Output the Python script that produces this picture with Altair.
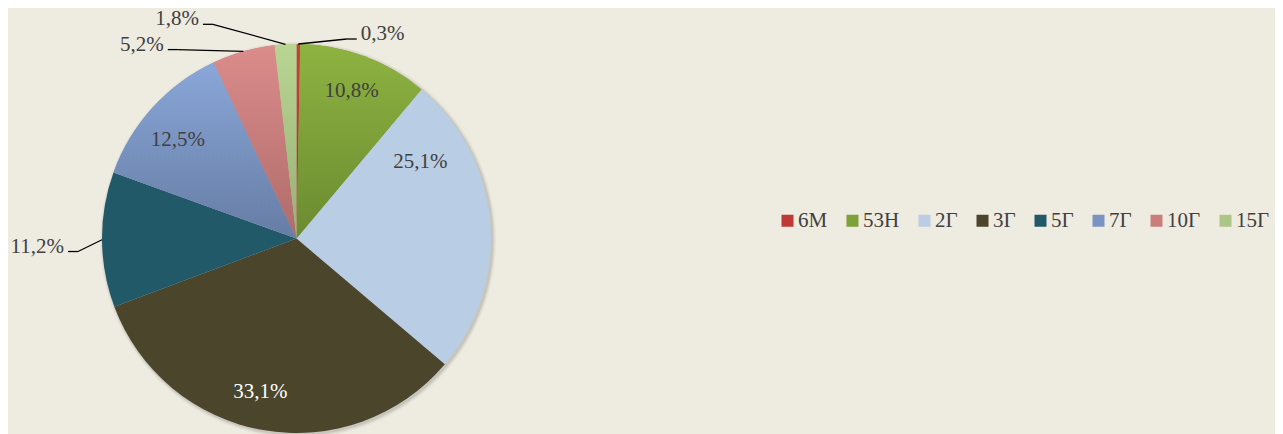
import altair as alt
import pandas as pd

# ---- data ----
categories = ["6М", "53Н", "2Г", "3Г", "5Г", "7Г", "10Г", "15Г"]
shares = [0.3, 10.8, 25.1, 33.1, 11.2, 12.5, 5.2, 1.8]

df = pd.DataFrame({
    "cat": categories,
    "share": shares,
    "idx": list(range(len(categories))),
    "label": [f"{v:.1f}%".replace(".", ",") for v in shares],
})

# ---- style ----
FONT = "Liberation Serif"
FS = 21
TXT = "#404040"
BG = "#EEEBE0"
solid = ["#BE3A36", "#7EA139", "#B9CDE5", "#4A452B", "#215968", "#7A93C3", "#C97E7C", "#ABC687"]
gradients = {
    "6М": ("#C8413C", "#A8302C"),
    "53Н": ("#8EB341", "#6B8B30"),
    "7Г": ("#8AA7D9", "#667DA4"),
    "10Г": ("#DB8C8B", "#AE6C6A"),
    "15Г": ("#B9D592", "#97B077"),
}

# layout of the chart (pixels within the plot area)
W, H = 1267, 426
CX, CY, R = 288.5, 230.5, 194.5
RI = 0.81 * R          # radius of inside labels
LEG, GAP = 10, 4       # leader horizontal leg, gap leader->text

# label placement: inside nudges / outside leader elbows (relative offsets)
layout = pd.DataFrame({
    "cat": ["53Н", "2Г", "3Г", "7Г", "6М", "15Г", "10Г", "5Г"],
    "kind": ["in", "in", "in", "in", "out", "out", "out", "out"],
    "ox": [0, -33, -9, -2, 48.4, -72.6, -65.6, -24],
    "oy": [0, -63, -2, 8, -5, -20, -1.8, 11.8],
    "side": [0, 0, 0, 0, 1, -1, -1, -1],
})

base = alt.Chart(df)

pie_enc = dict(
    theta=alt.Theta("share:Q", stack=True),
    order=alt.Order("idx:Q", sort="ascending"),
    x=alt.value(CX),
    y=alt.value(CY),
)

# soft shadow
shadow_data = pd.DataFrame({"k": [0]})
shadows = [
    alt.Chart(shadow_data).mark_arc(theta=0, theta2=6.2832, radius=R + r_add, fill="#000000", opacity=op)
    .encode(x=alt.value(CX + 1.5), y=alt.value(CY + 1.5))
    for r_add, op in [(3.5, 0.03), (2.2, 0.05), (1.0, 0.08)]
]

pie = base.mark_arc(radius=R).encode(
    color=alt.Color(
        "cat:N",
        sort=categories,
        scale=alt.Scale(domain=categories, range=solid),
        legend=alt.Legend(
            title=None, orient="none", legendX=769, legendY=202,
            direction="horizontal", columns=8,
            symbolType="square", symbolSize=144, symbolStrokeWidth=0,
            labelFont=FONT, labelFontSize=FS, labelColor=TXT,
            labelOffset=0, columnPadding=14, padding=0,
        ),
    ),
    **pie_enc,
)

conds = []
for c, (top, bot) in gradients.items():
    conds.append({
        "test": f"datum.cat === '{c}'",
        "value": {
            "gradient": "linear", "x1": 0, "y1": 0, "x2": 0, "y2": 1,
            "stops": [{"offset": 0, "color": top}, {"offset": 1, "color": bot}],
        },
    })
grad = base.mark_arc(radius=R).encode(
    fill={"condition": conds, "value": "transparent"},
    **pie_enc,
)


def geo(chart):
    return (
        chart.transform_window(cum="sum(share)", sort=[alt.SortField("idx")], frame=[None, 0])
        .transform_joinaggregate(total="sum(share)")
        .transform_calculate(mid=f"2*PI*(datum.cum - datum.share/2)/datum.total")
        .transform_calculate(
            ax=f"{CX} + {R}*sin(datum.mid)",
            ay=f"{CY} - {R}*cos(datum.mid)",
        )
        .transform_lookup(lookup="cat", from_=alt.LookupData(layout, "cat", ["kind", "ox", "oy", "side"]))
    )


X = lambda f: alt.X(f"{f}:Q", scale=None, axis=None)
Y = lambda f: alt.Y(f"{f}:Q", scale=None, axis=None)

inside = geo(base).transform_filter("datum.kind === 'in'").transform_calculate(
    lx=f"{CX} + {RI}*sin(datum.mid) + datum.ox",
    ly=f"{CY} - {RI}*cos(datum.mid) + datum.oy",
).mark_text(font=FONT, fontSize=FS, align="center", baseline="middle").encode(
    x=X("lx"), y=Y("ly"), text="label:N",
    color=alt.when(alt.datum.cat == "3Г").then(alt.value("#FFFFFF")).otherwise(alt.value(TXT)),
)

out = geo(base).transform_filter("datum.kind === 'out'").transform_calculate(
    ex="datum.ax + datum.ox",
    ey="datum.ay + datum.oy",
).transform_calculate(
    gx=f"datum.ex + datum.side*{LEG}",
    tx=f"datum.ex + datum.side*{LEG + GAP}",
    ty="datum.ey + 1",
)

lead1 = out.mark_rule(color="#000000", strokeWidth=1.3).encode(
    x=X("ax"), y=Y("ay"), x2="ex:Q", y2="ey:Q")
lead2 = out.mark_rule(color="#000000", strokeWidth=1.3).encode(
    x=X("ex"), y=Y("ey"), x2="gx:Q", y2="ey:Q")
out_r = out.transform_filter("datum.side > 0").mark_text(
    font=FONT, fontSize=FS, align="left", baseline="alphabetic", color=TXT
).encode(x=X("tx"), y=Y("ty"), text="label:N")
out_l = out.transform_filter("datum.side < 0").mark_text(
    font=FONT, fontSize=FS, align="right", baseline="alphabetic", color=TXT
).encode(x=X("tx"), y=Y("ty"), text="label:N")

chart = alt.layer(*shadows, pie, grad, inside, lead1, lead2, out_r, out_l).properties(
    width=W, height=H, autosize=alt.AutoSizeParams(type="none"), padding=0,
    background=BG,
).configure_view(stroke=None)

chart.save("out.html", embed_options={"renderer": "svg", "actions": False})
